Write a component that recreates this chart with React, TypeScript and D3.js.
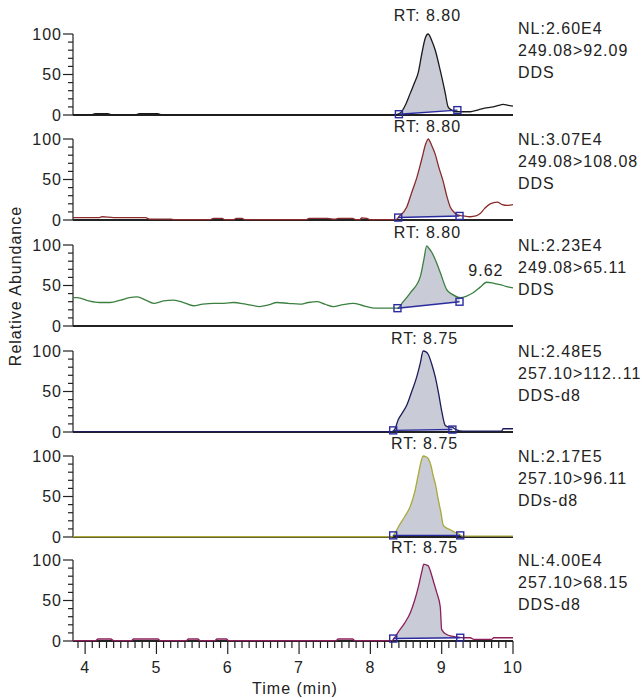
import React from "react";
import * as d3 from "d3";

// time axis (min)
const xTicks = [4, 5, 6, 7, 8, 9, 10];
const xMinor = d3.range(3.9, 10.01, 0.1).map((d) => +d.toFixed(1));
const yTicks = [0, 50, 100];
const yMinor = d3.range(0, 101, 10);

const rtLabels = ["RT: 8.80", "RT: 8.80", "RT: 8.80", "RT: 8.75", "RT: 8.75", "RT: 8.75"];
const rtTimes = [8.8, 8.8, 8.8, 8.76, 8.76, 8.76];
const nlLabels = ["NL:2.60E4", "NL:3.07E4", "NL:2.23E4", "NL:2.48E5", "NL:2.17E5", "NL:4.00E4"];
const transitions = ["249.08>92.09", "249.08>108.08", "249.08>65.11", "257.10>112..11", "257.10>96.11", "257.10>68.15"];
const compounds = ["DDS", "DDS", "DDS", "DDS-d8", "DDs-d8", "DDS-d8"];
const colors = ["#1a1a1a", "#8a2b2b", "#3c8040", "#1c1c5c", "#a9a93a", "#8c1f5a"];

// chromatogram traces [time, relative abundance]
const trace92: [number, number][] = [
  [3.83, 0.5], [4.1, 0.5], [4.14, 1.8], [4.32, 1.8], [4.36, 0.5], [4.72, 0.5], [4.76, 1.8], [5.02, 1.8],
  [5.06, 0.5], [8.36, 0.5], [8.42, 2.5], [8.5, 14], [8.56, 27], [8.62, 40], [8.67, 52], [8.72, 75],
  [8.77, 95], [8.81, 100], [8.86, 92], [8.91, 80], [8.98, 55], [9.05, 27], [9.09, 10], [9.14, 6],
  [9.19, 4], [9.3, 4], [9.4, 4], [9.5, 6], [9.58, 8], [9.65, 9], [9.72, 10], [9.8, 12], [9.86, 13],
  [9.93, 12], [10, 11],
];
const trace108: [number, number][] = [
  [3.83, 3], [4.2, 3], [4.24, 4], [4.4, 3], [4.85, 3], [4.9, 1], [5.2, 1], [5.25, 0.5], [5.75, 0.5],
  [5.8, 2], [5.92, 2], [5.96, 0.5], [6.08, 0.5], [6.12, 2], [6.2, 2], [6.24, 0.5], [7.1, 0.5], [7.14, 2],
  [7.4, 2], [7.5, 1], [7.55, 2], [7.75, 2], [7.8, 0.5], [7.85, 0.5], [7.88, 2.5], [7.95, 2], [8.0, 0.5],
  [8.36, 0.5], [8.4, 4], [8.51, 16], [8.58, 34], [8.65, 52], [8.72, 75], [8.78, 95], [8.81, 100],
  [8.86, 92], [8.91, 81], [8.96, 65], [9.02, 48], [9.07, 30], [9.12, 16], [9.18, 9], [9.23, 6], [9.3, 5],
  [9.4, 4], [9.48, 5], [9.54, 8], [9.6, 14], [9.68, 20], [9.78, 22], [9.85, 19], [9.92, 18], [10, 19],
];
const trace65: [number, number][] = [
  [3.83, 35], [3.89, 35], [4.05, 31], [4.2, 29], [4.35, 29], [4.5, 32], [4.62, 35], [4.73, 36],
  [4.85, 32], [4.96, 28], [5.1, 31], [5.24, 32], [5.38, 29], [5.52, 25], [5.65, 27], [5.8, 28],
  [5.95, 28], [6.08, 29], [6.25, 27], [6.45, 24], [6.57, 26], [6.69, 29], [6.85, 28], [7.01, 27],
  [7.13, 29], [7.25, 30], [7.36, 27], [7.48, 24], [7.6, 26], [7.76, 28], [7.9, 25], [8.05, 22],
  [8.2, 22], [8.38, 22], [8.46, 30], [8.56, 41], [8.7, 61], [8.75, 82], [8.79, 99], [8.82, 96],
  [8.86, 91], [8.92, 80], [8.98, 66], [9.07, 45], [9.15, 39], [9.26, 35], [9.35, 37], [9.44, 41],
  [9.54, 48], [9.63, 54], [9.72, 53], [9.82, 51], [9.9, 49], [10, 47],
];
const trace112: [number, number][] = [
  [3.83, 0.5], [8.3, 0.5], [8.34, 3], [8.39, 15], [8.45, 24], [8.51, 33], [8.58, 50], [8.65, 68],
  [8.7, 85], [8.74, 100], [8.78, 99], [8.81, 96], [8.86, 84], [8.91, 68], [8.96, 46], [9.0, 26],
  [9.05, 8], [9.1, 6], [9.14, 6], [9.2, 3], [9.3, 1], [9.84, 1], [9.86, 4], [10, 4],
];
const trace96: [number, number][] = [
  [3.83, 0.3], [8.3, 0.3], [8.34, 4], [8.39, 12], [8.48, 25], [8.56, 38], [8.62, 55], [8.67, 76],
  [8.72, 96], [8.74, 100], [8.78, 99], [8.81, 97], [8.85, 88], [8.88, 76], [8.92, 62], [8.95, 47],
  [8.99, 30], [9.02, 15], [9.07, 11], [9.12, 9], [9.18, 6], [9.23, 4], [9.3, 1], [10, 1],
];
const trace68: [number, number][] = [
  [3.83, 0.5], [4.15, 0.5], [4.18, 2.5], [4.36, 2.5], [4.4, 0.5], [4.65, 0.5], [4.68, 2.5], [5.02, 2.5],
  [5.05, 0.5], [5.42, 0.5], [5.45, 2.5], [5.58, 2.5], [5.61, 0.5], [5.82, 0.5], [5.85, 2.5], [5.98, 2.5],
  [6.01, 0.5], [7.52, 0.5], [7.55, 2.5], [7.75, 2.5], [7.78, 0.5], [8.3, 0.5], [8.34, 4], [8.39, 11],
  [8.48, 22], [8.56, 35], [8.62, 50], [8.67, 66], [8.72, 85], [8.75, 95], [8.78, 94], [8.81, 93],
  [8.85, 84], [8.88, 75], [8.93, 60], [8.98, 42], [9.0, 14], [9.07, 8], [9.14, 6], [9.21, 5], [9.3, 4],
  [9.4, 4], [9.45, 2], [9.7, 2], [9.73, 4], [10, 4],
];
const traces = [trace92, trace108, trace65, trace112, trace96, trace68];

// integration start / end markers [time, level]
const integStart: [number, number][] = [[8.4, 1], [8.39, 3], [8.38, 22], [8.32, 2], [8.32, 2], [8.32, 3]];
const integEnd: [number, number][] = [[9.22, 6], [9.25, 5], [9.25, 30], [9.15, 3], [9.26, 2], [9.26, 4]];

const W = 642;
const H = 698;
const axisLeft = 73;
const axisRight = 513;
const baselines = [115, 220, 326, 432, 537, 641];
const panelH = 81;
const font = "'Liberation Sans', Arial, sans-serif";
const txt = { fontSize: 16, fill: "#222", fontFamily: font, letterSpacing: 1 };

const x = d3.scaleLinear().domain([3.83, 10]).range([axisLeft, axisRight]);

function valueAt(tr: [number, number][], t: number) {
  const i = d3.bisector((d: [number, number]) => d[0]).left(tr, t);
  if (i <= 0) return tr[0][1];
  if (i >= tr.length) return tr[tr.length - 1][1];
  const [t0, v0] = tr[i - 1];
  const [t1, v1] = tr[i];
  return v0 + ((t - t0) / (t1 - t0)) * (v1 - v0);
}

const Panel = ({ i }: { i: number }) => {
  const base = baselines[i];
  const y = d3.scaleLinear().domain([0, 100]).range([base, base - panelH]);
  const tr = traces[i];
  const [ts, ls] = integStart[i];
  const [te, le] = integEnd[i];
  const inside: [number, number][] = [
    [ts, valueAt(tr, ts)],
    ...tr.filter((d) => d[0] > ts && d[0] < te),
    [te, valueAt(tr, te)],
  ];
  const baseAt = (t: number) => ls + ((t - ts) / (te - ts)) * (le - ls);
  const line = d3
    .line<[number, number]>()
    .x((d) => x(d[0]))
    .y((d) => y(d[1]))
    .curve(d3.curveMonotoneX);
  const area = d3
    .area<[number, number]>()
    .x((d) => x(d[0]))
    .y0((d) => y(baseAt(d[0])))
    .y1((d) => y(d[1]))
    .curve(d3.curveMonotoneX);
  const top = base - panelH;
  const isLast = i === traces.length - 1;
  const nlY = i === 0 ? top : top + 6;
  return (
    <g>
      {/* y axis */}
      <line x1={axisLeft} x2={axisLeft} y1={base} y2={top} stroke="#222" strokeWidth={1.2} />
      {yMinor.map((v) => (
        <line
          key={v}
          x1={axisLeft - (v % 50 === 0 ? 10 : 5)}
          x2={axisLeft}
          y1={y(v)}
          y2={y(v)}
          stroke="#222"
          strokeWidth={1.2}
        />
      ))}
      {yTicks.map((v) => (
        <text key={v} x={axisLeft - 11} y={y(v) + 5.5} textAnchor="end" {...txt}>
          {v}
        </text>
      ))}
      {/* baseline */}
      <line x1={axisLeft} x2={axisRight} y1={base} y2={base} stroke="#222" strokeWidth={1.8} />
      {/* peak area */}
      <path d={area(inside) || ""} fill="#c9ccd6" stroke="none" />
      <path d={line(tr) || ""} fill="none" stroke={colors[i]} strokeWidth={1.3} />
      <line x1={x(ts)} x2={x(te)} y1={y(ls)} y2={y(le)} stroke="#2b2ba0" strokeWidth={1.4} />
      {[integStart[i], integEnd[i]].map(([t, v], k) => (
        <rect key={k} x={x(t) - 3.5} y={y(v) - 3.5} width={7} height={7} fill="none" stroke="#2b2ba0" strokeWidth={1.4} />
      ))}
      <text x={x(rtTimes[i])} y={i === 0 ? top - 13 : top - 7} textAnchor="middle" {...txt}>
        {rtLabels[i]}
      </text>
      {i === 2 && (
        <text x={x(9.62)} y={y(62)} textAnchor="middle" {...txt}>
          9.62
        </text>
      )}
      <text x={518} y={nlY} {...txt}>
        <tspan x={518} dy={0}>{nlLabels[i]}</tspan>
        <tspan x={518} dy={22}>{transitions[i]}</tspan>
        <tspan x={518} dy={22}>{compounds[i]}</tspan>
      </text>
      {isLast && (
        <g>
          {xMinor.map((t) => {
            const major = Math.abs(t - Math.round(t)) < 1e-6;
            return (
              <line key={t} x1={x(t)} x2={x(t)} y1={base} y2={base + (major ? 13 : 7)} stroke="#222" strokeWidth={1.2} />
            );
          })}
          {xTicks.map((t) => (
            <text key={t} x={x(t)} y={base + 32} textAnchor="middle" {...txt}>
              {t}
            </text>
          ))}
        </g>
      )}
    </g>
  );
};

export default function App() {
  return (
    <svg width={W} height={H} style={{ position: "absolute", left: 0, top: 0, background: "#fff" }}>
      {traces.map((_, i) => (
        <Panel key={i} i={i} />
      ))}
      <text transform={`translate(21, 286) rotate(-90)`} textAnchor="middle" {...txt}>
        Relative Abundance
      </text>
      <text x={295} y={694} textAnchor="middle" {...txt}>
        Time (min)
      </text>
    </svg>
  );
}
